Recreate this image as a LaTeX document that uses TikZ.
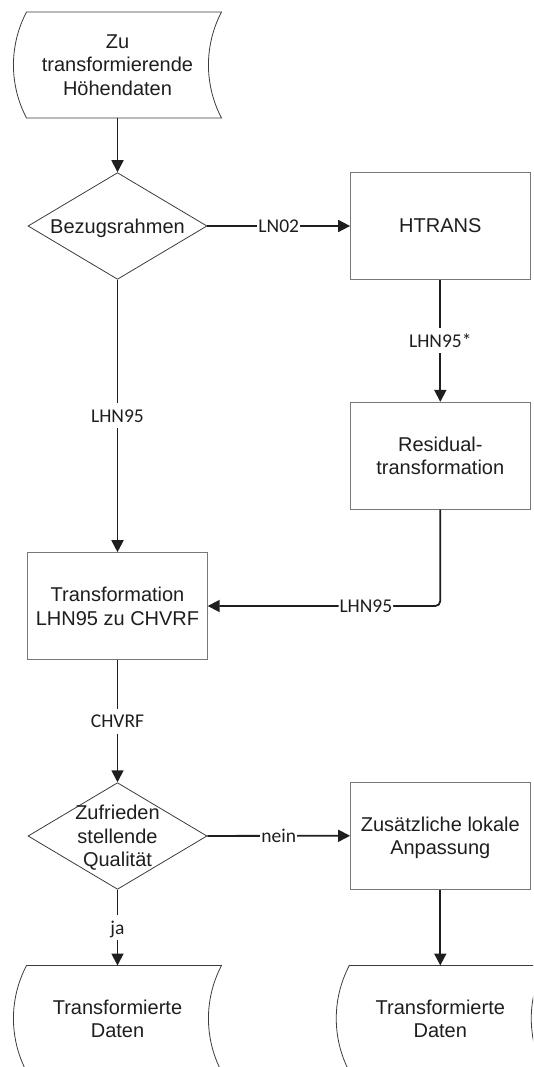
\documentclass[tikz,border=0pt]{standalone}
\usepackage{fontspec}
\setmainfont{Liberation Sans}
\newfontfamily\labelfont{Carlito}
\usepackage{tikz}
\usetikzlibrary{arrows.meta,positioning,shapes.geometric}
\definecolor{textcol}{RGB}{30,30,30}
\definecolor{boxcol}{RGB}{120,120,120}
\definecolor{raute}{RGB}{60,60,60}
\definecolor{linecol}{RGB}{30,30,30}

\begin{document}
\begin{tikzpicture}[
  x=1pt,y=-1pt,
  pfeil/.style={-{Triangle[length=12pt,width=12pt]},line width=1.8pt,linecol},
  kasten/.style={rectangle,draw=boxcol,line width=0.9pt,text=textcol,
                 minimum width=179.5pt,minimum height=106.7pt,
                 align=center,text depth=0pt,font={\fontsize{20}{23.5}\selectfont}},
  entscheid/.style={diamond,draw=raute,line width=0.8pt,text=textcol,
                    minimum width=179pt,minimum height=106.7pt,inner sep=-14pt,
                    align=center,text depth=0pt,font={\fontsize{20}{23.5}\selectfont}},
  daten/.style={rectangle,minimum width=208pt,minimum height=106pt,inner sep=0pt,
                outer sep=0pt,text=textcol,align=center,text depth=0pt,
                font={\fontsize{20}{23.5}\selectfont}},
  rand/.style={draw=raute,line width=0.8pt},
  lbl/.style={fill=white,text=textcol,inner xsep=1pt,inner ysep=0pt,
              text height=19pt,text depth=6pt,
              font={\labelfont\fontsize{19.5}{22}\selectfont}}
]
\useasboundingbox (0,0) rectangle (533,1067);
\clip (0,0) rectangle (533,1067);
%% Knoten
\node[daten]     (Ein)  at (117.5,65)     {Zu\\transformierende\\Höhendaten};
\node[entscheid] (Bez)  at (117.5,226)    {Bezugsrahmen};
\node[kasten]    (Ht)   at (440.3,226)    {HTRANS};
\node[kasten]    (Res)  at (440.3,455.7)  {Residual-\\transformation};
\node[kasten]    (Tr)   at (117.5,606)    {Transformation\\LHN95 zu CHVRF};
\node[entscheid] (Qual) at (117.5,836)    {Zufrieden\\stellende\\Qualität};
\node[kasten]    (Lok)  at (440.3,835.7)  {Zusätzliche lokale\\Anpassung};
\node[daten]     (AusA) at (117.5,1018.5) {Transformierte\\Daten};
\node[daten]     (AusB) at (440.3,1018.5) {Transformierte\\Daten};
%% Datenformen
\foreach \n in {Ein,AusA,AusB}
  \draw[rand] ([xshift=13pt]\n.north west) -- (\n.north east)
    .. controls ([xshift=-17.4pt,yshift=-33.2pt]\n.north east) and ([xshift=-17.4pt,yshift=33.2pt]\n.south east) .. (\n.south east)
    -- ([xshift=13pt]\n.south west)
    .. controls ([xshift=-4.4pt,yshift=33.2pt]\n.south west) and ([xshift=-4.4pt,yshift=-33.2pt]\n.north west) .. cycle;
%% Verbindungen
\draw[pfeil] (Ein)  -- (Bez);
\draw[pfeil] (Bez)  -- node[lbl]{LN02}   (Ht);
\draw[pfeil] (Bez)  -- node[lbl]{LHN95}  (Tr);
\draw[pfeil] (Ht)   -- node[lbl]{LHN95*} (Res);
\draw[pfeil,rounded corners=5pt] (Res) |- node[lbl,pos=0.66]{LHN95} (Tr);
\draw[pfeil] (Tr)   -- node[lbl]{CHVRF}  (Qual);
\draw[pfeil] (Qual) -- node[lbl]{nein}   (Lok);
\draw[pfeil] (Qual) -- node[lbl]{ja}     (AusA);
\draw[pfeil] (Lok)  -- (AusB);
\end{tikzpicture}
\end{document}
